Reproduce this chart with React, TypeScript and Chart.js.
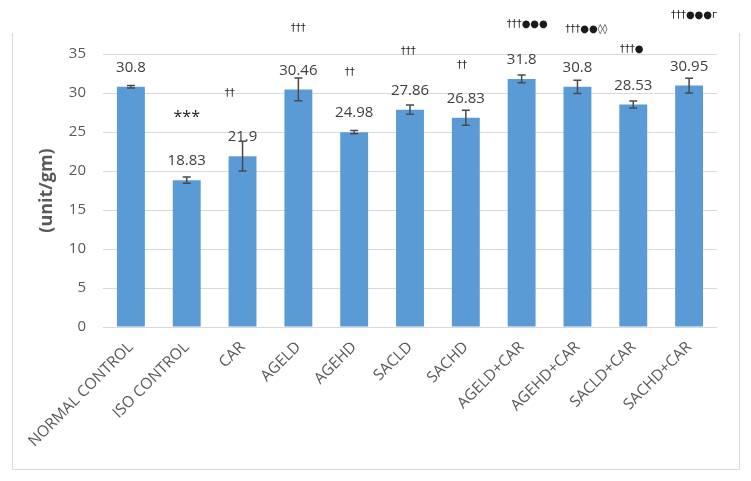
import React, { useEffect, useRef } from "react";
import { Chart, registerables } from "chart.js";

Chart.register(...registerables);

const categories = [
  "NORMAL CONTROL",
  "ISO CONTROL",
  "CAR",
  "AGELD",
  "AGEHD",
  "SACLD",
  "SACHD",
  "AGELD+CAR",
  "AGEHD+CAR",
  "SACLD+CAR",
  "SACHD+CAR",
];
const values = [30.8, 18.83, 21.9, 30.46, 24.98, 27.86, 26.83, 31.8, 30.8, 28.53, 30.95];
const errors = [0.15, 0.4, 1.9, 1.45, 0.2, 0.6, 0.95, 0.5, 0.85, 0.45, 0.95];
const valueLabels = ["30.8", "18.83", "21.9", "30.46", "24.98", "27.86", "26.83", "31.8", "30.8", "28.53", "30.95"];
const markers = ["", "***", "††", "†††", "††", "†††", "††", "†††●●●", "†††●●◊◊", "†††●", "†††●●●г"];
const markerY = [0, 26.9, 30.0, 38.3, 32.6, 35.3, 33.6, 38.8, 38.2, 35.6, 40.0];
const markerShift = [0, 0, -0.23, 0, -0.08, -0.03, -0.07, 0.1, 0.16, -0.03, 0.09];
const yTicks = [0, 5, 10, 15, 20, 25, 30, 35];
const yTitle = "(unit/gm)";

const FONT = "'Open Sans', 'Liberation Sans', sans-serif";

const overlayPlugin = {
  id: "overlay",
  beforeDraw(chart: any) {
    const ctx = chart.ctx;
    ctx.save();
    ctx.strokeStyle = "#d9d9d9";
    ctx.lineWidth = 1;
    ctx.beginPath();
    ctx.moveTo(12.5, 33);
    ctx.lineTo(12.5, 469.5);
    ctx.lineTo(739.5, 469.5);
    ctx.lineTo(739.5, 33);
    ctx.stroke();
    ctx.restore();
  },
  afterDatasetsDraw(chart: any) {
    const ctx = chart.ctx;
    const meta = chart.getDatasetMeta(0);
    const yScale = chart.scales.y;
    const xScale = chart.scales.x;
    ctx.save();
    meta.data.forEach((bar: any, i: number) => {
      const x = bar.x;
      const yHi = yScale.getPixelForValue(values[i] + errors[i]);
      const yLo = yScale.getPixelForValue(values[i] - errors[i]);
      ctx.strokeStyle = "#4a4a4a";
      ctx.lineWidth = 1.5;
      ctx.beginPath();
      ctx.moveTo(x, yHi);
      ctx.lineTo(x, yLo);
      ctx.moveTo(x - 4, yHi);
      ctx.lineTo(x + 4, yHi);
      ctx.moveTo(x - 4, yLo);
      ctx.lineTo(x + 4, yLo);
      ctx.stroke();

      ctx.fillStyle = "#404040";
      ctx.font = `15px ${FONT}`;
      ctx.textAlign = "center";
      ctx.textBaseline = "middle";
      ctx.fillText(valueLabels[i], x, bar.y - 19);

      if (markers[i]) {
        const step = xScale.getPixelForValue(1) - xScale.getPixelForValue(0);
        const mx = x + markerShift[i] * step;
        const my = yScale.getPixelForValue(markerY[i]);
        ctx.fillStyle = "#1a1a1a";
        ctx.font = markers[i] === "***" ? `16px ${FONT}` : `10px 'DejaVu Sans', sans-serif`;
        ctx.fillText(markers[i], mx, my);
      }
    });
    ctx.restore();
  },
};

export default function App() {
  const ref = useRef<HTMLCanvasElement | null>(null);
  useEffect(() => {
    if (!ref.current) return;
    const chart = new Chart(ref.current, {
      type: "bar",
      data: {
        labels: categories,
        datasets: [
          {
            data: values,
            backgroundColor: "#5b9bd5",
            barPercentage: 0.5,
            categoryPercentage: 1,
          },
        ],
      },
      options: {
        animation: false,
        responsive: false,
        layout: { padding: { left: 0, right: 34, top: 54, bottom: 0 } },
        plugins: { legend: { display: false }, tooltip: { enabled: false } },
        scales: {
          x: {
            grid: { display: false, drawTicks: false },
            border: { display: false },
            ticks: {
              minRotation: 45,
              maxRotation: 45,
              autoSkip: false,
              padding: 11,
              color: "#595959",
              font: { family: FONT, size: 15.5 },
            },
            afterFit(scale: any) {
              scale.height = 154;
            },
          },
          y: {
            min: 0,
            max: 35,
            afterBuildTicks(scale: any) {
              scale.ticks = yTicks.map((v) => ({ value: v }));
            },
            grid: { color: "#d9d9d9", drawTicks: false, lineWidth: 1 },
            border: { display: false },
            ticks: {
              padding: 17,
              color: "#595959",
              font: { family: FONT, size: 15 },
            },
            title: {
              display: true,
              text: yTitle,
              color: "#595959",
              font: { family: FONT, size: 18, weight: "bold" },
              padding: { top: 36, bottom: 0 },
            },
            afterFit(scale: any) {
              scale.width = 103;
            },
          },
        },
      },
      plugins: [overlayPlugin],
    });
    return () => chart.destroy();
  }, []);
  return (
    <div style={{ position: "fixed", left: 0, top: 0, width: 751, height: 481, background: "#fff" }}>
      <canvas ref={ref} width={751} height={481} />
    </div>
  );
}
